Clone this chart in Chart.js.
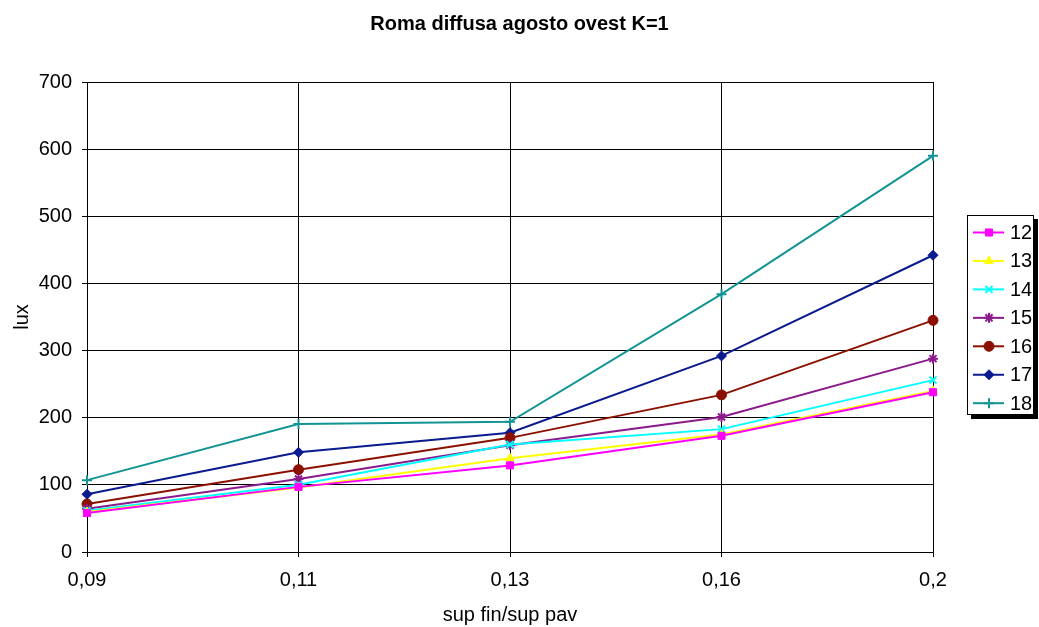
<!DOCTYPE html>
<html>
<head>
<meta charset="utf-8">
<script src="https://cdn.jsdelivr.net/npm/chart.js@4/dist/chart.umd.min.js"></script>
<style>
html,body{margin:0;padding:0;background:#fff;}
#wrap{width:1039px;height:627px;position:relative;}
</style>
</head>
<body>
<div id="wrap"><canvas id="c" width="1039" height="627"></canvas></div>
<script>
const categories = ["0,09", "0,11", "0,13", "0,16", "0,2"];
const seriesNames = ["12", "13", "14", "15", "16", "17", "18"];
const s12 = [58, 97, 129, 173, 238];
const s13 = [59.6, 96, 139.5, 175, 240];
const s14 = [61.5, 100, 160, 183, 256];
const s15 = [64.5, 108.7, 159, 201, 288];
const s16 = [71.5, 122.6, 170, 234, 345];
const s17 = [86, 148.5, 177.7, 292, 442];
const s18 = [107, 190.5, 194, 384, 590];
const yTicks = [0, 100, 200, 300, 400, 500, 600, 700];
const chartTitle = "Roma diffusa agosto ovest K=1";

const FONT = "'Liberation Sans', Arial, sans-serif";
const colors = ["#FF00FF", "#FFFF00", "#00FFFF", "#8B1A8B", "#8B1000", "#0A1A8F", "#129494"];
const styles = ["rect", "triangle", "crossRot", "star", "circle", "rectRot", "cross"];
const values = [s12, s13, s14, s15, s16, s17, s18];

const datasets = values.map((v, i) => {
  const stroked = ["crossRot", "star", "cross"].includes(styles[i]);
  return {
    label: seriesNames[i],
    data: v,
    borderColor: colors[i],
    backgroundColor: colors[i],
    borderWidth: 2,
    pointStyle: styles[i],
    pointRadius: 5,
    pointHoverRadius: 5,
    pointBorderWidth: stroked ? 2 : 1,
    pointBackgroundColor: colors[i],
    pointBorderColor: colors[i],
    tension: 0,
    fill: false
  };
});

const legendPlugin = {
  id: 'boxLegend',
  afterDraw(chart) {
    const ctx = chart.ctx;
    ctx.save();
    // title
    ctx.fillStyle = '#000';
    ctx.font = "bold 20px " + FONT;
    ctx.textAlign = 'center';
    ctx.textBaseline = 'alphabetic';
    ctx.fillText(chartTitle, 519.5, 30);
    // legend box
    const bx = 967.5, by = 215.5, bw = 66, bh = 199;
    ctx.fillStyle = '#000';
    ctx.fillRect(bx + 3.5, by + 3.5, bw + 1, bh + 1);
    ctx.fillStyle = '#fff';
    ctx.fillRect(bx, by, bw, bh);
    ctx.strokeStyle = '#000';
    ctx.lineWidth = 1;
    ctx.strokeRect(bx, by, bw, bh);
    const ds = chart.data.datasets;
    ds.forEach((d, i) => {
      const y = 232.5 + i * 28.45;
      ctx.strokeStyle = d.borderColor;
      ctx.lineWidth = 2;
      ctx.beginPath();
      ctx.moveTo(973, y);
      ctx.lineTo(1004, y);
      ctx.stroke();
      ctx.fillStyle = d.pointBackgroundColor;
      ctx.strokeStyle = d.pointBorderColor;
      ctx.lineWidth = d.pointBorderWidth;
      if (Chart.helpers && Chart.helpers.drawPoint) {
        Chart.helpers.drawPoint(ctx, {pointStyle: d.pointStyle, rotation: 0, radius: d.pointRadius, borderWidth: d.pointBorderWidth}, 989, y);
      }
      ctx.fillStyle = '#000';
      ctx.font = "20px " + FONT;
      ctx.textBaseline = 'middle';
      ctx.textAlign = 'left';
      ctx.fillText(d.label, 1010, y + 1);
    });
    ctx.restore();
  }
};

new Chart(document.getElementById('c'), {
  type: 'line',
  data: { labels: categories, datasets: datasets },
  plugins: [legendPlugin],
  options: {
    responsive: false,
    animation: false,
    devicePixelRatio: 1,
    layout: { padding: { top: 82, left: 0, right: 106, bottom: 0 } },
    plugins: {
      legend: { display: false },
      tooltip: { enabled: false },
      title: { display: false }
    },
    scales: {
      x: {
        type: 'category',
        offset: false,
        afterFit(scale) { scale.height = 75; },
        grid: { color: '#000', lineWidth: 1, drawTicks: true, tickLength: 5, tickColor: '#000' },
        border: { color: '#000', width: 1 },
        ticks: { color: '#000', font: { family: FONT, size: 20 }, padding: 11, maxRotation: 0, autoSkip: false },
        title: { display: true, text: 'sup fin/sup pav', color: '#000', font: { family: FONT, size: 20 }, padding: { top: 4, bottom: 0 } }
      },
      y: {
        min: 0,
        max: 700,
        afterFit(scale) { scale.width = 87; },
        afterBuildTicks(scale) { scale.ticks = yTicks.map(v => ({ value: v })); },
        grid: { color: '#000', lineWidth: 1, drawTicks: true, tickLength: 5, tickColor: '#000' },
        border: { color: '#000', width: 1 },
        ticks: { color: '#000', font: { family: FONT, size: 20 }, padding: 10 },
        title: { display: true, text: 'lux', color: '#000', font: { family: FONT, size: 20 }, padding: { top: 10, bottom: 4 } }
      }
    }
  }
});
</script>
</body>
</html>
